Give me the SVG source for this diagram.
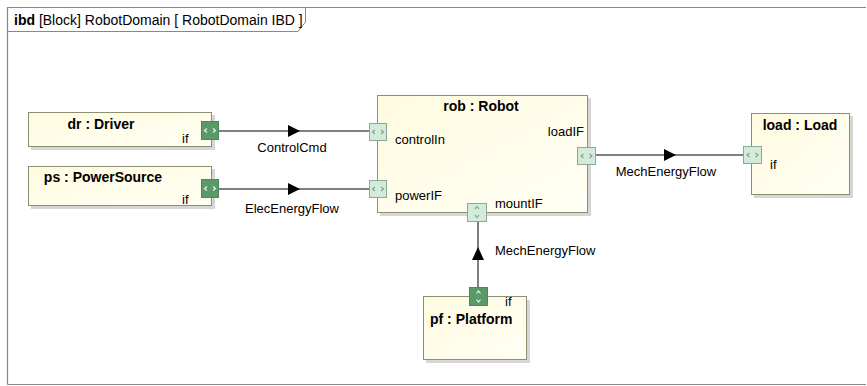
<svg xmlns="http://www.w3.org/2000/svg" width="867" height="386" viewBox="0 0 867 386">
<defs>
<linearGradient id="yel" x1="0" y1="0" x2="1" y2="1">
<stop offset="0" stop-color="#fffbe0"/>
<stop offset="1" stop-color="#fffff4"/>
</linearGradient>
</defs>
<style>
text{font-family:"Liberation Sans",Arial,sans-serif;font-size:13px;fill:#000}
.b{font-weight:bold;font-size:14px}
.h{font-size:14px}
.box{fill:url(#yel);stroke:#8e8e70;stroke-width:1}
.sh{fill:#d6d6d6}
.pd{fill:#5a9a68;stroke:#4a8a58}
.pl{fill:#d4eadb;stroke:#8aa898}
.ar{fill:none;stroke:#e8f4ea;stroke-width:1.2}
.arl{fill:none;stroke:#7fa58c;stroke-width:1.2}
.c{stroke:#000;stroke-width:1;fill:none}
</style>
<rect width="867" height="386" fill="#fff"/>
<g id="frame">
<path d="M7.5,384.5 V7.5 H866" fill="none" stroke="#888" stroke-width="1.2"/>
<path d="M866,384.5 H7.5" fill="none" stroke="#888" stroke-width="1.2"/>
<path d="M7.5,31.5 H298 L305.5,22 V7.5" fill="none" stroke="#888" stroke-width="1"/>
<text class="h" x="14" y="25"><tspan font-weight="bold">ibd</tspan> [Block] RobotDomain [ RobotDomain IBD ]</text>
</g>
<g id="connectors">
<line class="c" x1="218" y1="131" x2="369" y2="131"/>
<path d="M288,125 L300,131 L288,137 Z"/>
<text x="292" y="152" text-anchor="middle">ControlCmd</text>
<line class="c" x1="218" y1="189" x2="369" y2="189"/>
<path d="M288,183 L300,189 L288,195 Z"/>
<text x="292" y="213" text-anchor="middle">ElecEnergyFlow</text>
<line class="c" x1="596" y1="155" x2="743" y2="155"/>
<path d="M664,149 L676,155 L664,161 Z"/>
<text x="666" y="176" text-anchor="middle">MechEnergyFlow</text>
<line class="c" x1="478" y1="222" x2="478" y2="287"/>
<path d="M472,260 L478,247 L484,260 Z"/>
<text x="495" y="255">MechEnergyFlow</text>
</g>
<g id="dr">
<rect class="sh" x="31" y="115" width="184" height="35"/>
<rect class="box" x="28.5" y="112.5" width="183" height="34"/>
<text class="b" x="101" y="129" text-anchor="middle">dr : Driver</text>
<text x="182" y="143">if</text>
<rect class="pd" x="201.5" y="121.5" width="17" height="18"/>
<path class="ar" d="M207,128.5 l-2.5,2 l2.5,2 M213,128.5 l2.5,2 l-2.5,2"/>
</g>
<g id="ps">
<rect class="sh" x="31" y="169" width="184" height="40"/>
<rect class="box" x="28.5" y="166.5" width="183" height="39"/>
<text class="b" x="103" y="182" text-anchor="middle">ps : PowerSource</text>
<text x="182" y="204">if</text>
<rect class="pd" x="201.5" y="179.5" width="17" height="18"/>
<path class="ar" d="M207,186.5 l-2.5,2 l2.5,2 M213,186.5 l2.5,2 l-2.5,2"/>
</g>
<g id="rob">
<rect class="sh" x="380" y="98" width="211" height="118"/>
<rect class="box" x="377.5" y="95.5" width="210" height="117"/>
<text class="b" x="481" y="111" text-anchor="middle">rob : Robot</text>
<text x="395" y="144">controlIn</text>
<text x="395" y="200">powerIF</text>
<text x="584" y="136" text-anchor="end">loadIF</text>
<text x="495" y="208">mountIF</text>
<rect class="pl" x="369.5" y="123.5" width="17" height="17"/>
<path class="arl" d="M375,130 l-2.5,2 l2.5,2 M381,130 l2.5,2 l-2.5,2"/>
<rect class="pl" x="369.5" y="180.5" width="17" height="17"/>
<path class="arl" d="M375,187 l-2.5,2 l2.5,2 M381,187 l2.5,2 l-2.5,2"/>
<rect class="pl" x="577.5" y="147.5" width="18" height="17"/>
<path class="arl" d="M583.5,154 l-2.5,2 l2.5,2 M589.5,154 l2.5,2 l-2.5,2"/>
<rect class="pl" x="467.5" y="203.5" width="19" height="18"/>
<path class="arl" d="M475,209 l2,-2.5 l2,2.5 M475,215 l2,2.5 l2,-2.5"/>
</g>
<g id="load">
<rect class="sh" x="754" y="116" width="99" height="82"/>
<rect class="box" x="751.5" y="113.5" width="98" height="81"/>
<text class="b" x="800" y="130" text-anchor="middle">load : Load</text>
<text x="770" y="169">if</text>
<rect class="pl" x="743.5" y="146.5" width="18" height="17"/>
<path class="arl" d="M749.5,153 l-2.5,2 l2.5,2 M755.5,153 l2.5,2 l-2.5,2"/>
</g>
<g id="pf">
<rect class="sh" x="426" y="300" width="104" height="63"/>
<rect class="box" x="423.5" y="296.5" width="103" height="63"/>
<text x="505" y="306">if</text>
<text class="b" x="430" y="324">pf : Platform</text>
<rect class="pd" x="469.5" y="287.5" width="18" height="18"/>
<path class="ar" d="M476.5,293.5 l2,-2.5 l2,2.5 M476.5,299.5 l2,2.5 l2,-2.5"/>
</g>
</svg>
